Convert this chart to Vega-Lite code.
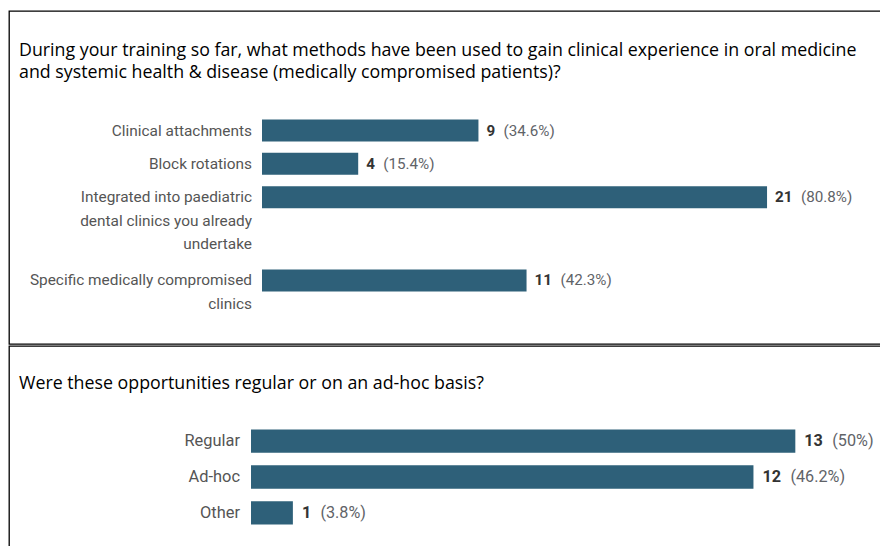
{
  "$schema": "https://vega.github.io/schema/vega-lite/v6.json",
  "padding": {"left": 8, "top": 10, "right": 0, "bottom": 0},
  "background": "white",
  "spacing": 0,
  "config": {
    "view": {"stroke": "#000000", "strokeWidth": 1.3},
    "font": "Roboto"
  },
  "vconcat": [
    {
      "width": 873,
      "height": 333,
      "title": {
        "text": ["During your training so far, what methods have been used to gain clinical experience in oral medicine", "and systemic health & disease (medically compromised patients)?"],
        "anchor": "start", "frame": "group", "orient": "top", "offset": -70.5, "dx": 10,
        "font": "Open Sans", "fontSize": 17.8, "fontWeight": "normal", "color": "#000000", "lineHeight": 22, "baseline": "top"
      },
      "data": {"values": [
        {"method": "Clinical attachments", "n": 9, "pct": "(34.6%)"},
        {"method": "Block rotations", "n": 4, "pct": "(15.4%)"},
        {"method": "Integrated into paediatric\ndental clinics you already\nundertake", "n": 21, "pct": "(80.8%)"},
        {"method": "Specific medically compromised\nclinics", "n": 11, "pct": "(42.3%)"}
      ]},
      "encoding": {
        "y": {"field": "method", "type": "nominal", "axis": null,
          "scale": {"domain": ["t1", "t2", "t3", "t4", "t5", "t6", "Clinical attachments", "g1", "Block rotations", "g2", "Integrated into paediatric\ndental clinics you already\nundertake", "g3", "g4", "g5", "g6", "Specific medically compromised\nclinics", "b1", "b2"],
            "paddingInner": 0, "paddingOuter": 1, "align": 0.34}}
      },
      "layer": [
        {"mark": {"type": "bar", "color": "#2e6079", "height": 22},
         "encoding": {"x": {"field": "n", "type": "quantitative", "axis": null, "scale": {"domain": [-10.52, 25.78], "nice": false, "zero": false}}, "x2": {"datum": 0}}},
        {"mark": {"type": "text", "align": "left", "baseline": "middle", "dx": 8, "fontSize": 15.2, "fontWeight": "bold", "color": "#333333"},
         "encoding": {"x": {"field": "n", "type": "quantitative"}, "text": {"field": "n", "type": "quantitative"}}},
        {"mark": {"type": "text", "align": "left", "baseline": "middle", "dx": {"expr": "datum.n >= 10 ? 34 : 25"}, "fontSize": 15.2, "color": "#5f6368"},
         "encoding": {"x": {"field": "n", "type": "quantitative"}, "text": {"field": "pct"}}},
        {"mark": {"type": "text", "align": "right", "baseline": "line-top", "dx": -10, "dy": -11, "lineBreak": "\n", "lineHeight": 23.5, "fontSize": 15.4, "color": "#555555"},
         "encoding": {"x": {"datum": 0}, "text": {"field": "method"}}}
      ]
    },
    {
      "width": 873,
      "height": 206,
      "title": {
        "text": "Were these opportunities regular or on an ad-hoc basis?",
        "anchor": "start", "frame": "group", "orient": "top", "offset": -47, "dx": 10,
        "font": "Open Sans", "fontSize": 17.8, "fontWeight": "normal", "color": "#000000", "baseline": "top"
      },
      "data": {"values": [
        {"basis": "Regular", "n": 13, "pct": "(50%)"},
        {"basis": "Ad-hoc", "n": 12, "pct": "(46.2%)"},
        {"basis": "Other", "n": 1, "pct": "(3.8%)"}
      ]},
      "encoding": {
        "y": {"field": "basis", "type": "nominal", "axis": null,
          "scale": {"domain": ["t1", "t2", "Regular", "Ad-hoc", "Other"], "paddingInner": 0, "paddingOuter": 0.377, "align": 0.211}}
      },
      "layer": [
        {"mark": {"type": "bar", "color": "#2e6079", "height": 23.3},
         "encoding": {"x": {"field": "n", "type": "quantitative", "axis": null, "scale": {"domain": [-5.78, 15.07], "nice": false, "zero": false}}, "x2": {"datum": 0}}},
        {"mark": {"type": "text", "align": "left", "baseline": "middle", "dx": 9, "fontSize": 16.2, "fontWeight": "bold", "color": "#333333"},
         "encoding": {"x": {"field": "n", "type": "quantitative"}, "text": {"field": "n", "type": "quantitative"}}},
        {"mark": {"type": "text", "align": "left", "baseline": "middle", "dx": {"expr": "datum.n >= 10 ? 37 : 27.5"}, "fontSize": 16.2, "color": "#5f6368"},
         "encoding": {"x": {"field": "n", "type": "quantitative"}, "text": {"field": "pct"}}},
        {"mark": {"type": "text", "align": "right", "baseline": "middle", "dx": -11, "fontSize": 16.4, "color": "#555555"},
         "encoding": {"x": {"datum": 0}, "text": {"field": "basis"}}}
      ]
    }
  ]
}
